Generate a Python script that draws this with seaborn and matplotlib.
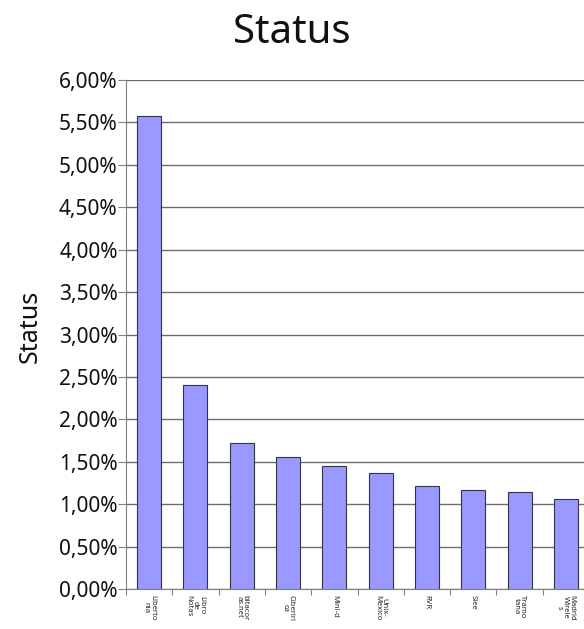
import matplotlib
matplotlib.use("Agg")
import matplotlib.pyplot as plt
import seaborn as sns
import pandas as pd
import numpy as np
from matplotlib.ticker import FuncFormatter, MultipleLocator, FixedLocator

categories = ["Liberto\nnia", "Libro\nde\nNotas", "bitacor\nas.net", "Ciberiri\nca", "Mini-d",
              "Unix-\nMexico", "RVR", "Siee", "Tramo\ntana", "Madrid\nWirele\ns"]
values = [5.58, 2.41, 1.725, 1.555, 1.455, 1.365, 1.215, 1.167, 1.148, 1.061]

df = pd.DataFrame({"site": categories, "pct": values})

sns.set_style("white")
plt.rcParams['font.family'] = ['Noto Sans', 'DejaVu Sans']

fig = plt.figure(figsize=(5.84, 6.29), dpi=100)
ax = fig.add_axes([126/584, 1-589/629, 463/584, 509/629])

sns.barplot(data=df, x="site", y="pct", color="#9999FF", saturation=1,
            edgecolor="#333344", linewidth=0.8, width=0.52, ax=ax, zorder=3)

ax.set_ylim(0, 6)
ax.set_xlim(-0.5, len(categories) - 0.5)
ax.yaxis.set_major_locator(MultipleLocator(0.5))
ax.yaxis.set_major_formatter(FuncFormatter(lambda v, p: f"{v:.2f}%".replace(".", ",")))
ax.yaxis.grid(True, color="#6e6e6e", linewidth=1.0, zorder=0)
ax.set_axisbelow(True)

ax.tick_params(axis="y", length=6, width=0.8, color="#808080", labelsize=15, pad=0,
               direction="out", left=True, labelcolor="#111111")
ax.tick_params(axis="x", length=0, labelsize=5.5, pad=4)
ax.xaxis.set_minor_locator(FixedLocator(np.arange(-0.5, len(categories), 1.0)))
ax.tick_params(axis="x", which="minor", length=4, width=0.8, color="#808080", bottom=True)
for lab in ax.get_xticklabels():
    lab.set_rotation(270)
    lab.set_ha("center")
    lab.set_va("top")
    lab.set_linespacing(0.85)

for s in ["top", "right"]:
    ax.spines[s].set_visible(False)
ax.spines["left"].set_color("#808080")
ax.spines["bottom"].set_color("#808080")

ax.set_xlabel("")
ax.set_ylabel("Status", fontsize=18, color="#111111", va="center")
ax.yaxis.set_label_coords(-0.207, 0.515)
fig.text(292/584, 1-33/629, "Status", fontsize=29, ha="center", va="center", color="#111111")

fig.savefig("out.png", dpi=100)
